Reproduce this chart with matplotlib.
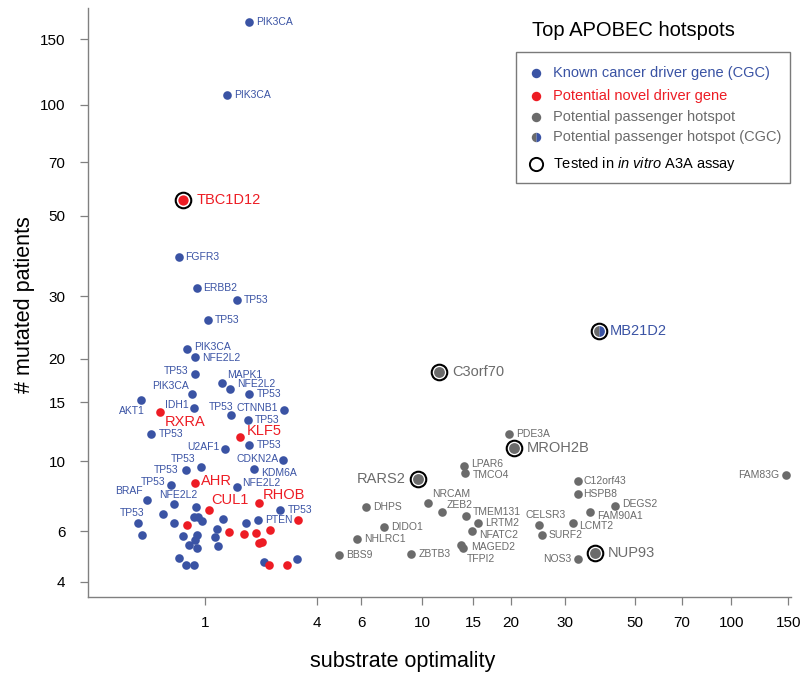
import numpy as np
import matplotlib
matplotlib.use("Agg")
import matplotlib.pyplot as plt
from matplotlib.patches import Rectangle
from matplotlib.lines import Line2D
from matplotlib.ticker import NullLocator

plt.rcParams['font.family'] = ['Liberation Sans', 'DejaVu Sans']
plt.rcParams['mathtext.fontset'] = 'custom'
plt.rcParams['mathtext.rm'] = 'Liberation Sans'
plt.rcParams['mathtext.it'] = 'Liberation Sans:italic'

BLUE = '#3a53a4'
RED = '#ed1c24'
GREY = '#6b6b6b'

# known cancer driver genes (CGC), labelled
cgc_names = ["PIK3CA", "PIK3CA", "FGFR3", "ERBB2", "TP53", "TP53", "PIK3CA", "NFE2L2",
             "TP53", "MAPK1", "NFE2L2", "TP53", "PIK3CA", "AKT1", "IDH1", "TP53",
             "CTNNB1", "TP53", "TP53", "TP53", "U2AF1", "CDKN2A", "TP53", "TP53",
             "KDM6A", "TP53", "NFE2L2", "BRAF", "NFE2L2", "TP53", "TP53", "PTEN"]
cgc_x = [1.91, 1.41, 0.57, 0.85, 1.63, 1.04, 0.70, 0.83,
         0.83, 1.31, 1.47, 1.91, 0.77, 0.086, 0.81, 1.50,
         2.86, 1.87, 0.21, 1.91, 1.37, 2.83, 0.93, 0.68,
         2.02, 0.47, 1.62, 0.16, 0.51, 2.74, 0.06, 2.12]
cgc_y = [167, 106, 38.6, 31.6, 29.4, 25.8, 21.4, 20.3,
         18.1, 17.0, 16.4, 15.8, 15.8, 15.2, 14.4, 13.8,
         14.2, 13.3, 12.1, 11.2, 10.9, 10.1, 9.6, 9.4,
         9.5, 8.45, 8.35, 7.6, 7.35, 7.04, 6.4, 6.55]
# known cancer driver genes, unlabelled
cgc_x2 = [0.84, 0.36, 0.81, 0.875, 0.94, 1.34, 0.51, 1.83, 0.10, 1.22, 0.64,
          0.85, 0.83, 1.18, 0.73, 0.85, 1.23, 0.57, 0.68, 0.81, 2.29, 3.26]
cgc_y2 = [7.18, 6.83, 6.67, 6.7, 6.5, 6.6, 6.37, 6.37, 5.84, 6.09, 5.79,
          5.83, 5.61, 5.75, 5.40, 5.26, 5.37, 4.87, 4.59, 4.59, 4.70, 4.83]

# potential novel driver genes
novel_names = ["TBC1D12", "RXRA", "KLF5", "AHR", "CUL1", "RHOB"]
novel_x = [0.64, 0.32, 1.69, 0.83, 1.07, 2.15]
novel_y = [55.2, 14.0, 11.8, 8.6, 7.04, 7.4]
novel_x2 = [3.31, 0.70, 1.46, 1.78, 2.07, 2.45, 2.16, 2.22, 2.42, 2.94]
novel_y2 = [6.55, 6.27, 5.96, 5.86, 5.91, 6.06, 5.49, 5.52, 4.60, 4.60]

# potential passenger hotspots
pass_names = ["C3orf70", "PDE3A", "MROH2B", "LPAR6", "TMCO4", "RARS2", "NRCAM", "DHPS",
              "ZEB2", "TMEM131", "LRTM2", "DIDO1", "NFATC2", "NHLRC1", "MAGED2", "TFPI2",
              "BBS9", "ZBTB3", "CELSR3", "SURF2", "NOS3", "NUP93", "C12orf43", "HSPB8",
              "DEGS2", "FAM90A1", "LCMT2", "FAM83G"]
pass_x = [11.46, 19.75, 20.46, 13.95, 14.09, 9.70, 10.51, 6.23,
          11.76, 14.2, 15.54, 7.30, 14.8, 5.76, 13.6, 13.87,
          4.92, 9.16, 24.7, 25.2, 32.95, 37.4, 33.0, 33.0,
          43.2, 36.0, 31.8, 147.5]
pass_y = [18.3, 12.06, 10.99, 9.67, 9.23, 8.80, 7.43, 7.21,
          6.92, 6.73, 6.37, 6.21, 6.02, 5.64, 5.40, 5.28,
          4.98, 5.03, 6.29, 5.83, 4.82, 5.05, 8.71, 7.90,
          7.26, 6.92, 6.37, 9.08]

# potential passenger hotspot in a CGC gene
mixed_names = ["MB21D2"]
mixed_x = [38.5]
mixed_y = [24.0]

tested = ["TBC1D12", "C3orf70", "MROH2B", "RARS2", "NUP93", "MB21D2"]

xticks = [1, 4, 6, 10, 15, 20, 30, 50, 70, 100, 150]
yticks = [4, 6, 10, 15, 20, 30, 50, 70, 100, 150]

# label placement (dx, dy in pixels, dy down; alignment)
R = (7, 0, 'left')
L = (-7, 0, 'right')
cgc_pos = [R, R, R, R, R, R, (7, -2, 'left'), (7, 1, 'left'),
           (-7, -3, 'right'), (5, -8, 'left'), (7, -5, 'left'), R, (-3, -8, 'right'),
           (4, 11, 'right'), (-5, -3, 'right'), (2, -8, 'right'),
           (-6, -2, 'right'), R, R, R, (-5, -2, 'right'), (-5, -1, 'right'),
           (-6, -8, 'right'), L,
           (7, 4, 'left'), (-6, -3, 'right'), (5, -4, 'left'), (-4, -9, 'right'),
           (4, -9, 'center'), R, (6, -10, 'right'), R]
novel_pos = [(13, 0, 'left'), (5, 10, 'left'), (7, -6, 'left'), (6, -2, 'left'),
             (2, -10, 'left'), (4, -8, 'left')]
pass_pos = [(13, 0, 'left'), R, (13, 0, 'left'), (7, -2, 'left'), (7, 2, 'left'),
            (-13, 0, 'right'), (4, -9, 'left'), R,
            (4, -7, 'left'), (6, -4, 'left'), R, R, (7, 4, 'left'), R, (10, 2, 'left'),
            (3, 11, 'left'),
            R, R, (7, -10, 'center'), R, L, (13, 0, 'left'), (5, 0, 'left'), (5, 0, 'left'),
            (7, -2, 'left'), (7, 4, 'left'), (6, 3, 'left'), L]
mixed_pos = [(11, 0, 'left')]


def fwd(v):
    return np.log10(np.maximum(np.asarray(v, dtype=float) + 1.5, 1e-9))


def inv(v):
    return 10 ** np.asarray(v, dtype=float) - 1.5


W, H = 800, 678
fig = plt.figure(figsize=(8, 6.78), dpi=100)
ax = fig.add_axes([88.3 / W, 1 - 597 / H, (791 - 88.3) / W, (597 - 8.3) / H])
ax.set_xscale('function', functions=(fwd, inv))
ax.set_yscale('function', functions=(fwd, inv))
ax.set_xlim(-0.403, 152.8)
ax.set_ylim(3.518, 181.6)

ms_dot = 6.2
ax.plot(cgc_x + cgc_x2, cgc_y + cgc_y2, 'o', color=BLUE, ms=ms_dot, mec='none', zorder=3)
ax.plot(novel_x + novel_x2, novel_y + novel_y2, 'o', color=RED, ms=ms_dot, mec='none', zorder=3)
big = [n in tested for n in pass_names]
ax.plot([x for x, b in zip(pass_x, big) if not b], [y for y, b in zip(pass_y, big) if not b],
        'o', color=GREY, ms=ms_dot, mec='none', zorder=3)
ax.plot([x for x, b in zip(pass_x, big) if b], [y for y, b in zip(pass_y, big) if b],
        'o', color=GREY, ms=7.8, mec='none', zorder=3)
ax.plot(mixed_x, mixed_y, 'o', ms=7.8, fillstyle='left', color=GREY,
        markerfacecoloralt=BLUE, mec='none', zorder=3)
# red tested dot slightly larger
for x, y, n in zip(novel_x, novel_y, novel_names):
    if n in tested:
        ax.plot([x], [y], 'o', color=RED, ms=7.4, mec='none', zorder=4)

# rings for tested hotspots
all_x = cgc_x + novel_x + pass_x + mixed_x
all_y = cgc_y + novel_y + pass_y + mixed_y
all_n = cgc_names + novel_names + pass_names + mixed_names
for x, y, n in zip(all_x, all_y, all_n):
    if n in tested:
        ax.plot([x], [y], 'o', ms=11.2, mfc='none', mec='black', mew=1.5, zorder=5)


def put_labels(xs, ys, names, pos, color):
    for x, y, n, (dx, dy, ha) in zip(xs, ys, names, pos):
        size = 10.5 if (n in tested or color == RED) else 7.5
        ax.annotate(n, (x, y), xytext=(dx * 0.72, -dy * 0.72), textcoords='offset points',
                    ha=ha, va='center', color=color, fontsize=size, zorder=6)


put_labels(cgc_x, cgc_y, cgc_names, cgc_pos, BLUE)
put_labels(novel_x, novel_y, novel_names, novel_pos, RED)
put_labels(pass_x, pass_y, pass_names, pass_pos, GREY)
put_labels(mixed_x, mixed_y, mixed_names, mixed_pos, BLUE)

ax.set_xticks(xticks)
ax.set_xticklabels([str(t) for t in xticks])
ax.set_yticks(yticks)
ax.set_yticklabels([str(t) for t in yticks])
ax.xaxis.set_minor_locator(NullLocator())
ax.yaxis.set_minor_locator(NullLocator())
ax.tick_params(direction='out', length=5.5, width=0.9, color='#808080',
               labelsize=11, labelcolor='black')
ax.tick_params(axis='x', pad=8)
ax.tick_params(axis='y', pad=11)
for s in ['top', 'right']:
    ax.spines[s].set_visible(False)
for s in ['left', 'bottom']:
    ax.spines[s].set_color('#808080')
    ax.spines[s].set_linewidth(1.0)

fig.text(25 / W, 1 - 305 / H, '# mutated patients', rotation=90, ha='center', va='center',
         fontsize=15.5)
fig.text(403 / W, 1 - 662 / H, 'substrate optimality', ha='center', va='center', fontsize=15.5)


def fx(p):
    return p / W


def fy(p):
    return 1 - p / H


# legend (drawn by hand, title sits above the box)
fig.text(fx(531.7), fy(30), 'Top APOBEC hotspots', ha='left', va='center', fontsize=14.5)
fig.add_artist(Rectangle((fx(515.7), fy(183.3)), (790 - 515.7) / W, (183.3 - 52.3) / H,
                         transform=fig.transFigure, fill=False, edgecolor='#7a7a7a', lw=1.0))
leg_rows = [73.3, 95.7, 116.7, 137.3, 164]
leg_text = ['Known cancer driver gene (CGC)', 'Potential novel driver gene',
            'Potential passenger hotspot', 'Potential passenger hotspot (CGC)',
            r'Tested in $\mathit{in\ vitro}$ A3A assay']
leg_col = [BLUE, RED, GREY, GREY, 'black']
mx = fx(535.7)
fig.add_artist(Line2D([mx], [fy(leg_rows[0])], marker='o', ms=6.8, color=BLUE, mec='none',
                      transform=fig.transFigure))
fig.add_artist(Line2D([mx], [fy(leg_rows[1])], marker='o', ms=6.8, color=RED, mec='none',
                      transform=fig.transFigure))
fig.add_artist(Line2D([mx], [fy(leg_rows[2])], marker='o', ms=6.8, color=GREY, mec='none',
                      transform=fig.transFigure))
fig.add_artist(Line2D([mx], [fy(leg_rows[3])], marker='o', ms=6.8, fillstyle='left', color=GREY,
                      markerfacecoloralt=BLUE, mec='none', transform=fig.transFigure))
fig.add_artist(Line2D([mx], [fy(leg_rows[4])], marker='o', ms=9.5, mfc='none', mec='black',
                      mew=1.4, transform=fig.transFigure))
for r, t, c in zip(leg_rows, leg_text, leg_col):
    fig.text(fx(552.7), fy(r), t, ha='left', va='center', color=c, fontsize=10.5)

fig.savefig('out.png', dpi=100)
